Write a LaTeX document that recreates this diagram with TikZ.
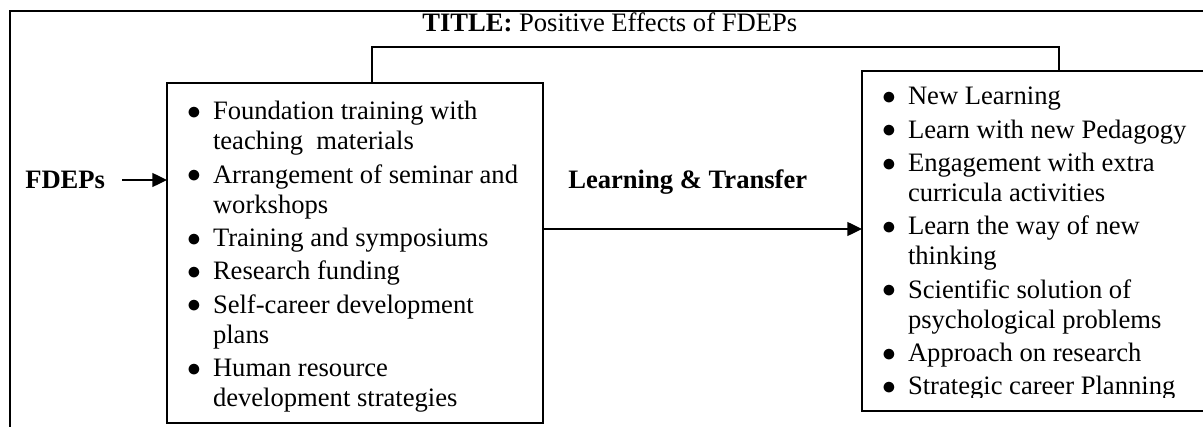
\documentclass[tikz,border=0pt]{standalone}
\usepackage{fontspec}
\setmainfont{Liberation Serif}
\usetikzlibrary{arrows.meta}
\newcommand\bul{\makebox[18pt][l]{\hspace*{-1.5pt}\raisebox{0.3pt}{$\bullet$}}}
\newcommand\cnt{\hspace*{18pt}}
\newcommand\lst[1]{\parbox[t]{330pt}{\fontsize{19.95pt}{22.5pt}\selectfont #1}}
\tikzset{
  frameline/.style={line width=1.6pt},
  boxnode/.style={draw, line width=1.2pt, inner sep=0pt, outer sep=0pt, minimum height=255pt},
  listtext/.style={anchor=base west, inner sep=0pt, outer sep=0pt, align=left},
  lbl/.style={anchor=base west, inner sep=0pt, font=\fontsize{19.95pt}{22.5pt}\selectfont},
  conn/.style={line width=1pt},
  arr/.style={line width=1pt, -{Triangle[length=11pt,width=10.5pt]}}
}
\begin{document}
\begin{tikzpicture}[x=0.75pt,y=-0.75pt]
\useasboundingbox (0,0) rectangle (1203,427);
\clip (0,0) rectangle (1203,427);
% outer frame
\draw[frameline] (10,440) -- (10,11) -- (1220,11);
% title
\node[lbl] (title) at (422,32) {\textbf{TITLE:} Positive Effects of FDEPs};
% boxes
\node[boxnode, anchor=north west, minimum width=282pt] (lbox) at (167,83) {};
\node[boxnode, anchor=north west, minimum width=272pt] (rbox) at (862,71) {};
% list texts
\node[listtext] (ltext) at (189,120) {\lst{%
\bul Foundation training with\\
\cnt teaching\ \ materials\\[2.5pt]
\bul Arrangement of seminar and\\
\cnt workshops\\[2.5pt]
\bul Training and symposiums\\[2.5pt]
\bul Research funding\\[2.5pt]
\bul Self-career development\\
\cnt plans\\[2.5pt]
\bul Human resource\\
\cnt development strategies}};
\begin{scope}
\clip (850,60) rectangle (1203,397.5);
\node[listtext] (rtext) at (884,105) {\lst{%
\bul New Learning\\[2.5pt]
\bul Learn with new Pedagogy\\[2.5pt]
\bul Engagement with extra\\
\cnt curricula activities\\[2.5pt]
\bul Learn the way of new\\
\cnt thinking\\[2.5pt]
\bul Scientific solution of\\
\cnt psychological problems\\[2.5pt]
\bul Approach on research\\[2.5pt]
\bul Strategic career Planning}};
\end{scope}
% labels
\node[lbl] (fdeps) at (25,189) {\textbf{FDEPs}};
\node[lbl] (lt) at (568,189) {\textbf{Learning \& Transfer}};
% connectors
\coordinate (fstart) at (122,180);
\draw[arr] (fstart) -- (lbox.west |- fstart);
\coordinate (mid) at (600,229);
\draw[arr] (lbox.east |- mid) -- (rbox.west |- mid);
\coordinate (t1) at (372,47);
\coordinate (t2) at (1059,47);
\draw[conn] (t1 |- lbox.north) -- (t1) -- (t2) -- (t2 |- rbox.north);
\end{tikzpicture}
\end{document}
